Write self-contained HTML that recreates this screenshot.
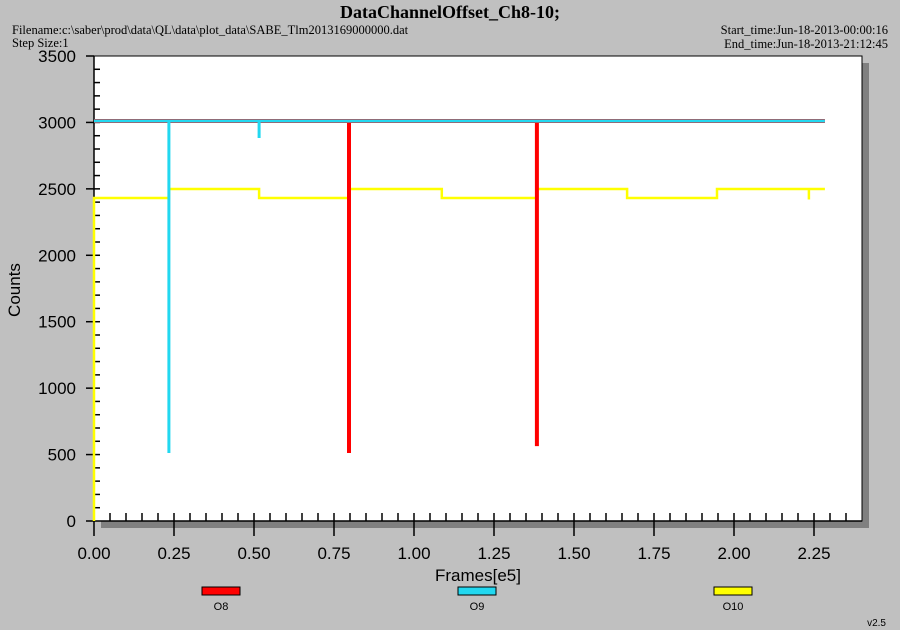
<!DOCTYPE html>
<html><head><meta charset="utf-8"><style>
body{margin:0;width:900px;height:630px;background:#c0c0c0;overflow:hidden}
svg{display:block}
</style></head><body>
<svg id="chart" width="900" height="630" xmlns="http://www.w3.org/2000/svg">
<text x="450" y="18" text-anchor="middle" font-family="Liberation Serif, serif" font-weight="bold" font-size="18">DataChannelOffset_Ch8-10;</text>
<text x="12" y="34" font-family="Liberation Serif, serif" font-size="12.5">Filename:c:\saber\prod\data\QL\data\plot_data\SABE_Tlm2013169000000.dat</text>
<text x="12" y="47" font-family="Liberation Serif, serif" font-size="12.5">Step Size:1</text>
<text x="888" y="34" text-anchor="end" font-family="Liberation Serif, serif" font-size="12.5">Start_time:Jun-18-2013-00:00:16</text>
<text x="888" y="48" text-anchor="end" font-family="Liberation Serif, serif" font-size="12.5">End_time:Jun-18-2013-21:12:45</text>
<rect x="101" y="63" width="768" height="465" fill="#808080"/>
<rect x="94" y="56" width="768" height="465" fill="#fff" stroke="#000" stroke-width="1"/>
<g id="axes"></g>
<g id="series"></g>
<text x="20" y="290" transform="rotate(-90 20 290)" text-anchor="middle" font-family="Liberation Sans, sans-serif" font-size="17">Counts</text>
<text x="478" y="581" text-anchor="middle" font-family="Liberation Sans, sans-serif" font-size="17">Frames[e5]</text>
<g id="legend"></g>
<text x="886" y="626" text-anchor="end" font-family="Liberation Sans, sans-serif" font-size="10">v2.5</text>
</svg>
<script>
const xTicks=[0,0.25,0.5,0.75,1.0,1.25,1.5,1.75,2.0,2.25];
const xTickLabels=["0.00","0.25","0.50","0.75","1.00","1.25","1.50","1.75","2.00","2.25"];
const yTicks=[0,500,1000,1500,2000,2500,3000,3500];
const yTickLabels=["0","500","1000","1500","2000","2500","3000","3500"];
const seriesNames=["O8","O9","O10"];
const seriesColors=["#ff0000","#22d8f0","#ffff00"];
// O8 red: spikes
const o8X=[0.0,0.797,0.797,0.797,1.384,1.384,1.384,2.284];
const o8Y=[3011,3011,512,3011,3011,564,3011,3011];
// O9 cyan
const o9X=[0.0,0.234,0.234,0.234,0.516,0.516,0.516,2.284];
const o9Y=[3011,3011,512,3011,3011,2883,3011,3011];
// O10 yellow step
const o10X=[0.0,0.0,0.234,0.234,0.516,0.516,0.797,0.797,1.087,1.087,1.384,1.384,1.666,1.666,1.947,1.947,2.234,2.234,2.234,2.284];
const o10Y=[0,2431,2431,2499,2499,2431,2431,2499,2499,2431,2431,2499,2499,2431,2431,2499,2499,2420,2499,2499];

const NS="http://www.w3.org/2000/svg";
const X0=94,Y0=521,W=768,H=465,XMAX=2.4,YMAX=3500;
const sx=v=>X0+v/XMAX*W, sy=v=>Y0-v/YMAX*H;
function mk(t,a,p){const e=document.createElementNS(NS,t);for(const k in a)e.setAttribute(k,a[k]);p.appendChild(e);return e;}
const ax=document.getElementById('axes');
for(let v=0.05;v<XMAX-0.001;v+=0.05){
 const l=mk('line',{x1:sx(v),x2:sx(v),y1:Y0,y2:Y0-8,stroke:'#000','stroke-width':1.5},ax);
 
 
}
for(let v=100;v<YMAX;v+=100){
 const l=mk('line',{x1:X0,x2:X0+6,y1:sy(v),y2:sy(v),stroke:'#000','stroke-width':1.5},ax);
 
 
}
xTicks.forEach((v,i)=>{
 const l=mk('line',{x1:sx(v),x2:sx(v),y1:Y0,y2:Y0+15,stroke:'#000','stroke-width':1.5},ax);
 
 
 const t=mk('text',{x:sx(v),y:Y0+38,'text-anchor':'middle','font-family':'Liberation Sans, sans-serif','font-size':17},ax);
 t.textContent=xTickLabels[i];
 
 
});
yTicks.forEach((v,i)=>{
 const l=mk('line',{x1:X0-8,x2:X0,y1:sy(v),y2:sy(v),stroke:'#000','stroke-width':1.5},ax);
 
 
 const t=mk('text',{x:X0-18,y:sy(v)+6,'text-anchor':'end','font-family':'Liberation Sans, sans-serif','font-size':17},ax);
 t.textContent=yTickLabels[i];
 
 
});
mk('line',{x1:X0,x2:X0+W,y1:Y0,y2:Y0,stroke:'#000','stroke-width':1.5},ax);
const sg=document.getElementById('series');
const order=[[o10X,o10Y,2,'o10-line',2.5],[o8X,o8Y,0,'o8-line',4],[o9X,o9Y,1,'o9-line',3]];
order.forEach(([xs,ys,ci,nm,w])=>{
 const pts=xs.map((x,i)=>sx(x).toFixed(1)+','+sy(ys[i]).toFixed(1)).join(' ');
 const p=mk('polyline',{points:pts,fill:'none',stroke:seriesColors[ci],'stroke-width':w,'stroke-linejoin':'miter'},sg);
 
 
});
mk('line',{x1:X0,x2:X0,y1:Y0,y2:Y0-H,stroke:'#000','stroke-width':1.5},ax);
const lg=document.getElementById('legend');
const lx=[221,477,733];
seriesNames.forEach((n,i)=>{
 const r=mk('rect',{x:lx[i]-19,y:587,width:38,height:8,fill:seriesColors[i],stroke:'#000','stroke-width':1},lg);
 
 
 const t=mk('text',{x:lx[i],y:610,'text-anchor':'middle','font-family':'Liberation Sans, sans-serif','font-size':11},lg);
 t.textContent=n;
 
 
});
</script>
</body></html>
